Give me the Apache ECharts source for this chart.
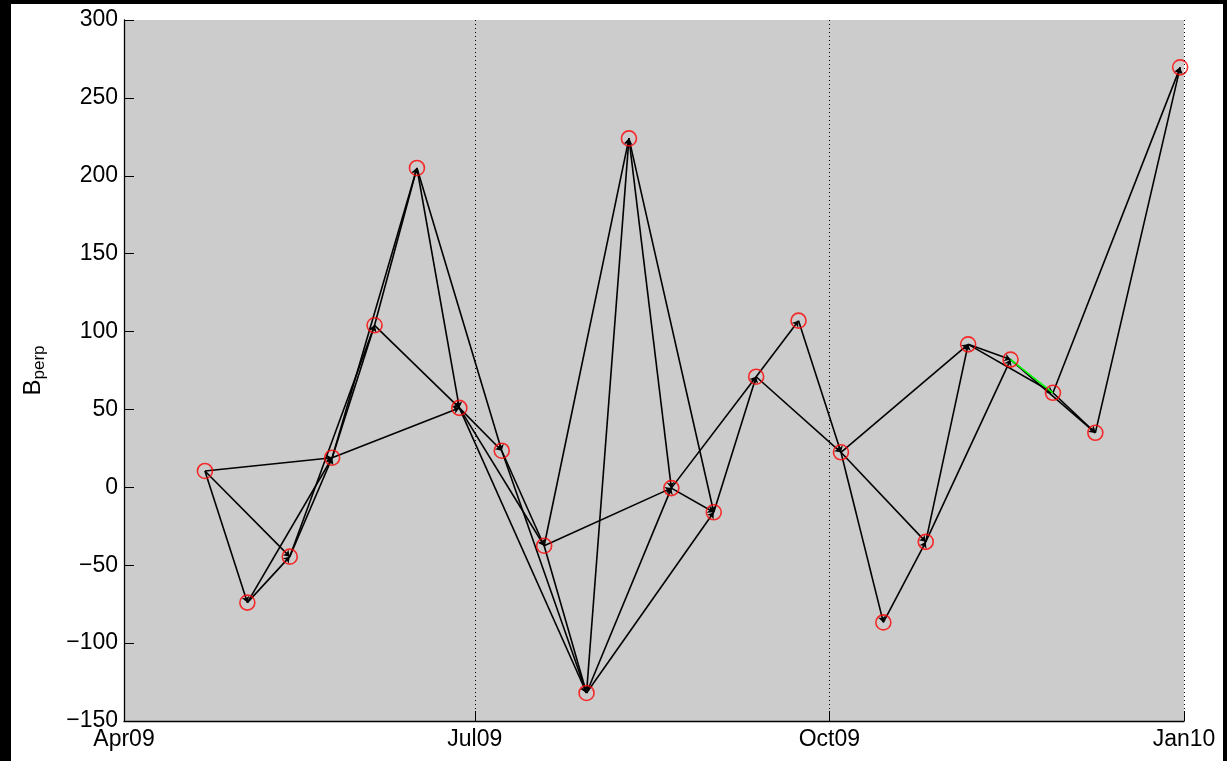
<!DOCTYPE html>
<html>
<head>
<meta charset="utf-8">
<script src="https://cdn.jsdelivr.net/npm/echarts@6/dist/echarts.min.js"></script>
<style>
html,body{margin:0;padding:0;background:#000;width:1227px;height:761px;overflow:hidden;}
#paper{position:absolute;left:11px;top:4px;width:1212px;height:757px;background:#fff;}
#chart{position:absolute;left:0;top:0;width:1227px;height:761px;}
</style>
</head>
<body>
<div id="paper"></div>
<div id="chart"></div>
<script>
// acquisition dates and perpendicular baselines (m)
const dates = ['2009-04-22','2009-05-03','2009-05-14','2009-05-25','2009-06-05','2009-06-16',
  '2009-06-27','2009-07-08','2009-07-19','2009-07-30','2009-08-10','2009-08-21','2009-09-01',
  '2009-09-12','2009-09-23','2009-10-04','2009-10-15','2009-10-26','2009-11-06','2009-11-17',
  '2009-11-28','2009-12-09','2009-12-31'];
const bperp = [10.5, -74, -44.5, 19, 104, 205, 51, 23.5, -37.5, -132, 224, -0.5, -16, 71, 107,
  22.5, -86.7, -35, 91.8, 82, 60.7, 35, 269.6];
// interferogram pairs (indices into dates)
const edges = [[0,1],[0,2],[0,3],[1,2],[1,3],[2,3],[2,4],[3,4],[3,5],[3,6],[4,5],[4,6],[5,6],[5,7],
  [6,7],[6,8],[6,9],[7,8],[7,9],[8,9],[8,10],[8,11],[9,10],[9,11],[9,12],[10,11],[10,12],[11,12],
  [11,13],[12,13],[13,14],[13,15],[14,15],[15,16],[15,17],[15,18],[16,17],[17,18],[17,19],
  [18,19],[18,20],[19,21],[20,21],[20,22],[21,22]];
const greenEdges = [[19,20]];
const xTicks = ['2009-04-01','2009-07-01','2009-10-01','2010-01-01'];
const xTickLabels = ['Apr09','Jul09','Oct09','Jan10'];
const gridDates = ['2009-07-01','2009-10-01','2010-01-01'];
const yMin = -150, yMax = 300, yStep = 50;

const ts = s => { const p = s.split('-').map(Number); return Date.UTC(p[0], p[1]-1, p[2]); };
const tickTs = xTicks.map(ts);
const FONT = 'Liberation Sans';

const chart = echarts.init(document.getElementById('chart'));
const pt = i => [ts(dates[i]), bperp[i]];

chart.setOption({
  backgroundColor: 'transparent',
  animation: false,
  grid: { left: 124, right: 43, top: 20, bottom: 40, show: true, backgroundColor: '#cccccc', borderWidth: 0, outerBoundsMode: 'none' },
  xAxis: {
    type: 'value', min: tickTs[0], max: tickTs[tickTs.length-1],
    axisLine: { show: true, onZero: false, lineStyle: { color: '#000', width: 1.3 } },
    axisTick: { show: true, inside: true, length: 10, customValues: tickTs, lineStyle: { color: '#000' } },
    axisLabel: { customValues: tickTs, color: '#000', fontSize: 23, fontFamily: FONT, margin: 7,
      showMinLabel: true, showMaxLabel: true,
      formatter: v => { const k = tickTs.indexOf(v); return k >= 0 ? xTickLabels[k] : ''; } },
    splitLine: { show: false }
  },
  yAxis: {
    type: 'value', min: yMin, max: yMax, interval: yStep,
    name: '{b|B}{s|perp}', nameLocation: 'middle', nameRotate: 90, nameGap: 76,
    nameTextStyle: { color: '#000', fontFamily: FONT,
      rich: { b: { fontSize: 24, fontFamily: FONT, color: '#000' },
              s: { fontSize: 17, fontFamily: FONT, color: '#000', padding: [13,0,0,0] } } },
    axisLine: { show: true, onZero: false, lineStyle: { color: '#000', width: 1.3 } },
    axisTick: { show: true, inside: true, length: 10, lineStyle: { color: '#000' } },
    axisLabel: { color: '#000', fontSize: 23, fontFamily: FONT, margin: 6,
      formatter: v => String(v).replace('-', '\u2212') },
    splitLine: { show: false }
  },
  series: [
    {
      type: 'lines', coordinateSystem: 'cartesian2d', z: 2,
      symbol: ['none', 'arrow'], symbolSize: 6,
      lineStyle: { color: '#000', width: 1.6, opacity: 1 },
      data: edges.map(e => ({ coords: [pt(e[0]), pt(e[1])] })),
      markLine: {
        silent: true, symbol: 'none', label: { show: false },
        lineStyle: { color: '#000', type: [1, 3], width: 1 },
        data: gridDates.map(d => ({ xAxis: ts(d) }))
      }
    },
    {
      type: 'lines', coordinateSystem: 'cartesian2d', z: 3,
      lineStyle: { color: '#00ff00', width: 1.6, opacity: 1 },
      data: greenEdges.map(e => ({ coords: [pt(e[0]), pt(e[1])] }))
    },
    {
      type: 'scatter', z: 4, symbol: 'circle', symbolSize: 15,
      itemStyle: { color: 'transparent', borderColor: '#ff0000', borderWidth: 1.6 },
      data: dates.map((d, i) => pt(i))
    }
  ]
});
</script>
</body>
</html>
